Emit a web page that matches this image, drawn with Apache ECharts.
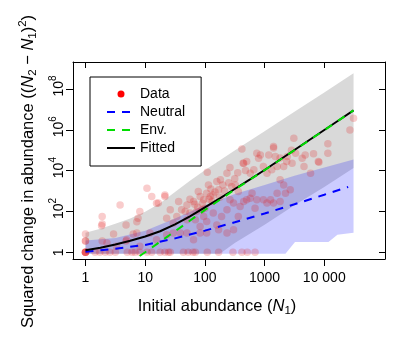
<!DOCTYPE html>
<html><head><meta charset="utf-8">
<script src="https://cdn.jsdelivr.net/npm/echarts@6/dist/echarts.min.js"></script>
<style>html,body{margin:0;padding:0;background:#fff}#c{width:417px;height:343px}</style>
</head><body><div id="c"></div>
<script>
// ---------- data (all values are log10 of the plotted quantities) ----------
const xTickLog10 = [0, 1, 2, 3, 4];
const xTickLabels = ['1', '10', '100', '1000', '10 000'];
const yTickLog10 = [0, 2, 4, 6, 8];
const yTickBase = ['1', '10', '10', '10', '10'];
const yTickExp = ['', '2', '4', '6', '8'];

// observed data: log10 N1 and log10 squared change
const dataLogN1 = [
  0,0,0,0,0,0.16,0.24,0.33,0.41,0.50,0.70,0.78,0.83,0.91,1.03,1.11,1.25,1.33,1.39,1.42,1.64,1.72,1.80,1.84,2.04,2.23,2.47,2.62,2.71,2.84,
  0,0,0,0.28,0.28,0.28,0.47,0.68,0.68,0.80,0.88,0.91,1.03,1.11,1.22,1.33,1.36,1.42,1.47,1.53,1.56,1.61,1.67,1.70,1.75,1.81,1.86,1.89,1.92,1.95,1.98,
  2.03,2.04,2.06,2.09,2.12,2.14,2.20,2.23,2.26,2.30,2.37,2.42,2.45,2.51,2.56,2.62,2.65,2.70,2.76,2.82,2.87,2.90,2.93,2.98,3.04,3.07,3.12,3.15,3.18,3.21,
  3.26,3.32,3.38,3.46,3.49,3.52,3.63,3.66,3.68,3.77,3.82,3.91,4.06,4.06,4.43,4.49,
  1.70,1.84,1.92,1.98,2.03,2.14,2.20,2.28,2.37,2.42,2.48,2.56,2.59,2.65,2.70,2.76,2.79,2.84,2.87,2.98,3.04,3.10,3.15,3.21,3.26,3.32,3.35,3.43,
  1.08,1.19,1.36,1.47,1.59,1.70,1.81,1.92,2.03,2.23,2.37,2.48,0.69,0.86,0.91,0.52,0.36,
  0.58,0.27,0.86,1.19,1.33,1.75,1.83,1.88,1.96,2.00,2.07,2.10,2.17,2.25,2.33,2.40,2.50,2.55,2.64,2.68,3.15,3.45,3.26,3.37,3.90
];
const dataLogSq = [
  0,0,0,0,0,0,0,0,0,0,0,0,0,0,0,0,0,0,0,0,0,0,0,0,0,0,0,0,0,0,
  0.89,0.55,0.55,1.75,1.39,0.55,0.89,1.33,0.55,0.89,1.67,2.00,3.14,2.73,2.41,2.73,1.67,2.08,1.43,1.75,2.49,2.08,2.00,2.32,1.92,2.49,2.00,2.98,2.73,2.08,2.57,
  2.89,3.92,3.30,2.73,2.49,2.81,3.47,3.06,3.55,3.30,3.87,4.15,3.22,3.30,2.98,5.06,4.36,4.44,3.87,4.04,4.85,4.61,4.77,4.20,3.87,4.77,4.04,5.18,4.69,4.20,
  3.55,4.20,4.69,4.36,5.59,4.85,4.61,4.20,4.77,3.87,4.82,4.41,5.31,4.85,5.99,6.56,
  1.59,1.59,1.26,1.75,1.51,1.92,1.33,1.75,2.08,2.57,2.41,1.75,2.24,2.49,2.57,2.65,2.89,2.16,2.57,2.57,2.41,2.57,2.41,2.89,2.49,3.30,2.89,3.06,
  0.94,0.61,0.86,0.94,0.94,0.94,0.61,0.94,0.94,1.10,0.94,1.10,0.61,0.94,0.29,0.29,0.45,
  2.32,1.30,1.50,2.40,2.81,2.60,2.35,2.20,2.40,2.15,2.60,3.10,2.95,2.70,3.00,3.40,3.60,3.90,4.36,4.00,5.11,5.00,4.62,4.45,4.44
];

// model curves
const fittedLogN1 = [0,0.25,0.5,0.75,1,1.25,1.5,1.75,2,2.25,2.5,2.75,3,3.25,3.5,3.75,4,4.25,4.49];
const fittedLogSq = [0.10,0.22,0.38,0.56,0.77,1.03,1.37,1.76,2.20,2.64,3.10,3.56,4.03,4.52,5.01,5.50,5.99,6.48,6.95];
const neutralLogN1 = [0,0.5,1,1.5,2,2.5,3,3.5,4,4.40];
const neutralLogSq = [0.03,0.17,0.36,0.68,1.06,1.47,1.90,2.35,2.82,3.20];
const envLogN1 = [0.7,1,1.5,2,2.5,3,3.5,4,4.49];
const envLogSq = [-0.6,0.0,1.03,2.07,3.07,4.02,5.00,5.98,6.95];

// prediction bands
const envBandUpperN1 = [0,0.25,0.5,0.75,1,1.25,1.5,1.75,2,2.5,3,3.5,4,4.49];
const envBandUpper = [0.95,1.15,1.40,1.65,1.98,2.40,2.95,3.50,4.02,4.98,5.93,6.88,7.83,8.77];
const envBandLowerN1 = [0,2.25,2.5,3,3.5,4,4.49];
const envBandLower = [-0.07,-0.07,0.45,1.35,2.30,3.20,4.13];
const neuBandUpperN1 = [0,0.5,1,1.5,2,2.5,3,3.5,4,4.49];
const neuBandUpper = [0.58,0.70,1.05,1.65,2.30,2.85,3.30,3.75,4.15,4.55];
const neuBandLowerN1 = [0,3.35,3.51,4.07,4.22,4.49];
const neuBandLower = [-0.07,-0.07,0.50,0.50,0.86,0.95];

// ---------- chart ----------
const FONT = 'Liberation Sans, Arial, Helvetica, sans-serif';
const zip = (a, b) => a.map((v, i) => [v, b[i]]);

function band(name, xu, yu, xl, yl, color) {
  return {
    type: 'custom', name: name, silent: true, clip: true,
    xAxisIndex: 0, yAxisIndex: 0,
    data: [[xu[0], yu[0]]],
    renderItem: function (params, api) {
      const pts = [];
      for (let i = 0; i < xu.length; i++) pts.push(api.coord([xu[i], yu[i]]));
      for (let i = xl.length - 1; i >= 0; i--) pts.push(api.coord([xl[i], yl[i]]));
      return { type: 'polygon', shape: { points: pts }, style: { fill: color } };
    }
  };
}

const xMin = -0.209, xMax = 5.017, yMin = -0.33, yMax = 9.32;
const noSymbol = { color: 'rgba(0,0,0,0)', borderColor: 'rgba(0,0,0,0)', borderWidth: 0 };

const chart = echarts.init(document.getElementById('c'), null, { renderer: 'canvas' });
chart.setOption({
  animation: false,
  backgroundColor: '#fff',
  textStyle: { fontFamily: FONT, color: '#000' },
  grid: { left: 73, right: 32, top: 62, bottom: 84, containLabel: false, outerBoundsMode: 'none' },
  legend: {
    orient: 'vertical', left: 90, top: 77,
    padding: [10, 16, 11, 16],
    itemWidth: 28, itemHeight: 7, itemGap: 4,
    borderColor: '#000', borderWidth: 1, borderRadius: 0, backgroundColor: '#fff',
    textStyle: { fontFamily: FONT, fontSize: 14, color: '#000' },
    data: [
      { name: 'Data', icon: 'circle', itemStyle: { color: '#ff0000', opacity: 1, borderWidth: 0 } },
      { name: 'Neutral', itemStyle: noSymbol },
      { name: 'Env.', itemStyle: noSymbol },
      { name: 'Fitted', itemStyle: noSymbol }
    ]
  },
  xAxis: [{
    type: 'value', position: 'bottom', min: xMin, max: xMax,
    name: '{a|Initial abundance (}{i|N}{s|1}{a|)}',
    nameLocation: 'middle', nameGap: 36, nameMoveOverlap: false,
    nameTextStyle: {
      fontFamily: FONT, fontSize: 16.5, color: '#000', padding: [0, 24, 0, 0],
      rich: {
        a: { fontSize: 16.5, lineHeight: 22, verticalAlign: 'middle', color: '#000' },
        i: { fontSize: 16.5, lineHeight: 22, verticalAlign: 'middle', fontStyle: 'italic', color: '#000' },
        s: { fontSize: 11.5, lineHeight: 10, verticalAlign: 'bottom', color: '#000' }
      }
    },
    axisLine: { show: true, onZero: false, lineStyle: { color: '#000', width: 1 } },
    axisTick: { show: true, inside: false, length: 7, customValues: xTickLog10, lineStyle: { color: '#000', width: 1 } },
    axisLabel: {
      show: true, customValues: xTickLog10, margin: 12, fontSize: 14, color: '#000', fontFamily: FONT,
      formatter: v => xTickLabels[xTickLog10.indexOf(Math.round(v))]
    },
    splitLine: { show: false }
  }, {
    type: 'value', position: 'top', min: xMin, max: xMax,
    axisLine: { show: true, onZero: false, lineStyle: { color: '#000', width: 1 } },
    axisTick: { show: true, inside: true, length: 6, customValues: xTickLog10, lineStyle: { color: '#000', width: 1 } },
    axisLabel: { show: false },
    splitLine: { show: false }
  }],
  yAxis: [{
    type: 'value', position: 'left', min: yMin, max: yMax,
    name: '{a|Squared change in abundance ((}{i|N}{s|2}{a| \u2212 }{i|N}{s|1}{a|)}{p|2}{a|)}',
    nameLocation: 'middle', nameRotate: 90, nameGap: 34, nameMoveOverlap: false,
    nameTextStyle: {
      fontFamily: FONT, fontSize: 16.5, color: '#000', padding: [0, 22, 0, 0],
      rich: {
        a: { fontSize: 16.5, lineHeight: 22, verticalAlign: 'middle', color: '#000' },
        i: { fontSize: 16.5, lineHeight: 22, verticalAlign: 'middle', fontStyle: 'italic', color: '#000' },
        s: { fontSize: 11.5, lineHeight: 10, verticalAlign: 'bottom', color: '#000' },
        p: { fontSize: 11.5, lineHeight: 10, verticalAlign: 'top', color: '#000' }
      }
    },
    axisLine: { show: true, onZero: false, lineStyle: { color: '#000', width: 1 } },
    axisTick: { show: true, inside: false, length: 7, customValues: yTickLog10, lineStyle: { color: '#000', width: 1 } },
    axisLabel: {
      show: true, customValues: yTickLog10, rotate: 90, margin: 7, color: '#000', fontFamily: FONT,
      formatter: v => {
        const i = yTickLog10.indexOf(Math.round(v));
        return yTickExp[i] ? '{m|' + yTickBase[i] + '}{e|' + yTickExp[i] + '}' : '{n|' + yTickBase[i] + '}';
      },
      rich: {
        n: { fontSize: 14, lineHeight: 18, verticalAlign: 'bottom', color: '#000' },
        m: { fontSize: 14, lineHeight: 18, verticalAlign: 'bottom', color: '#000', padding: [0, 0, 0, 6] },
        e: { fontSize: 10, lineHeight: 10, verticalAlign: 'top', color: '#000' }
      }
    },
    splitLine: { show: false }
  }, {
    type: 'value', position: 'right', min: yMin, max: yMax,
    axisLine: { show: true, onZero: false, lineStyle: { color: '#000', width: 1 } },
    axisTick: { show: true, inside: true, length: 6, customValues: yTickLog10, lineStyle: { color: '#000', width: 1 } },
    axisLabel: { show: false },
    splitLine: { show: false }
  }],
  series: [
    band('Env. band', envBandUpperN1, envBandUpper, envBandLowerN1, envBandLower, '#d9d9d9'),
    band('Neutral band', neuBandUpperN1, neuBandUpper, neuBandLowerN1, neuBandLower, 'rgba(0,0,255,0.2)'),
    {
      type: 'scatter', name: 'Data', xAxisIndex: 0, yAxisIndex: 0,
      symbol: 'circle', symbolSize: 7.5,
      itemStyle: { color: 'rgba(225,20,20,0.27)', borderWidth: 0 },
      data: zip(dataLogN1, dataLogSq)
    },
    {
      type: 'line', name: 'Neutral', xAxisIndex: 0, yAxisIndex: 0, symbol: 'none', showSymbol: false, clip: true,
      lineStyle: { color: '#0000ff', width: 2, type: [8, 7] }, itemStyle: { color: '#0000ff' },
      data: zip(neutralLogN1, neutralLogSq)
    },
    {
      type: 'line', name: 'Fitted', xAxisIndex: 0, yAxisIndex: 0, symbol: 'none', showSymbol: false, clip: true,
      lineStyle: { color: '#000000', width: 2 }, itemStyle: { color: '#000000' },
      data: zip(fittedLogN1, fittedLogSq)
    },
    {
      type: 'line', name: 'Env.', xAxisIndex: 0, yAxisIndex: 0, symbol: 'none', showSymbol: false, clip: true,
      lineStyle: { color: '#00dd00', width: 2, type: [8, 7] }, itemStyle: { color: '#00dd00' },
      data: zip(envLogN1, envLogSq)
    }
  ]
});
</script>
</body></html>
